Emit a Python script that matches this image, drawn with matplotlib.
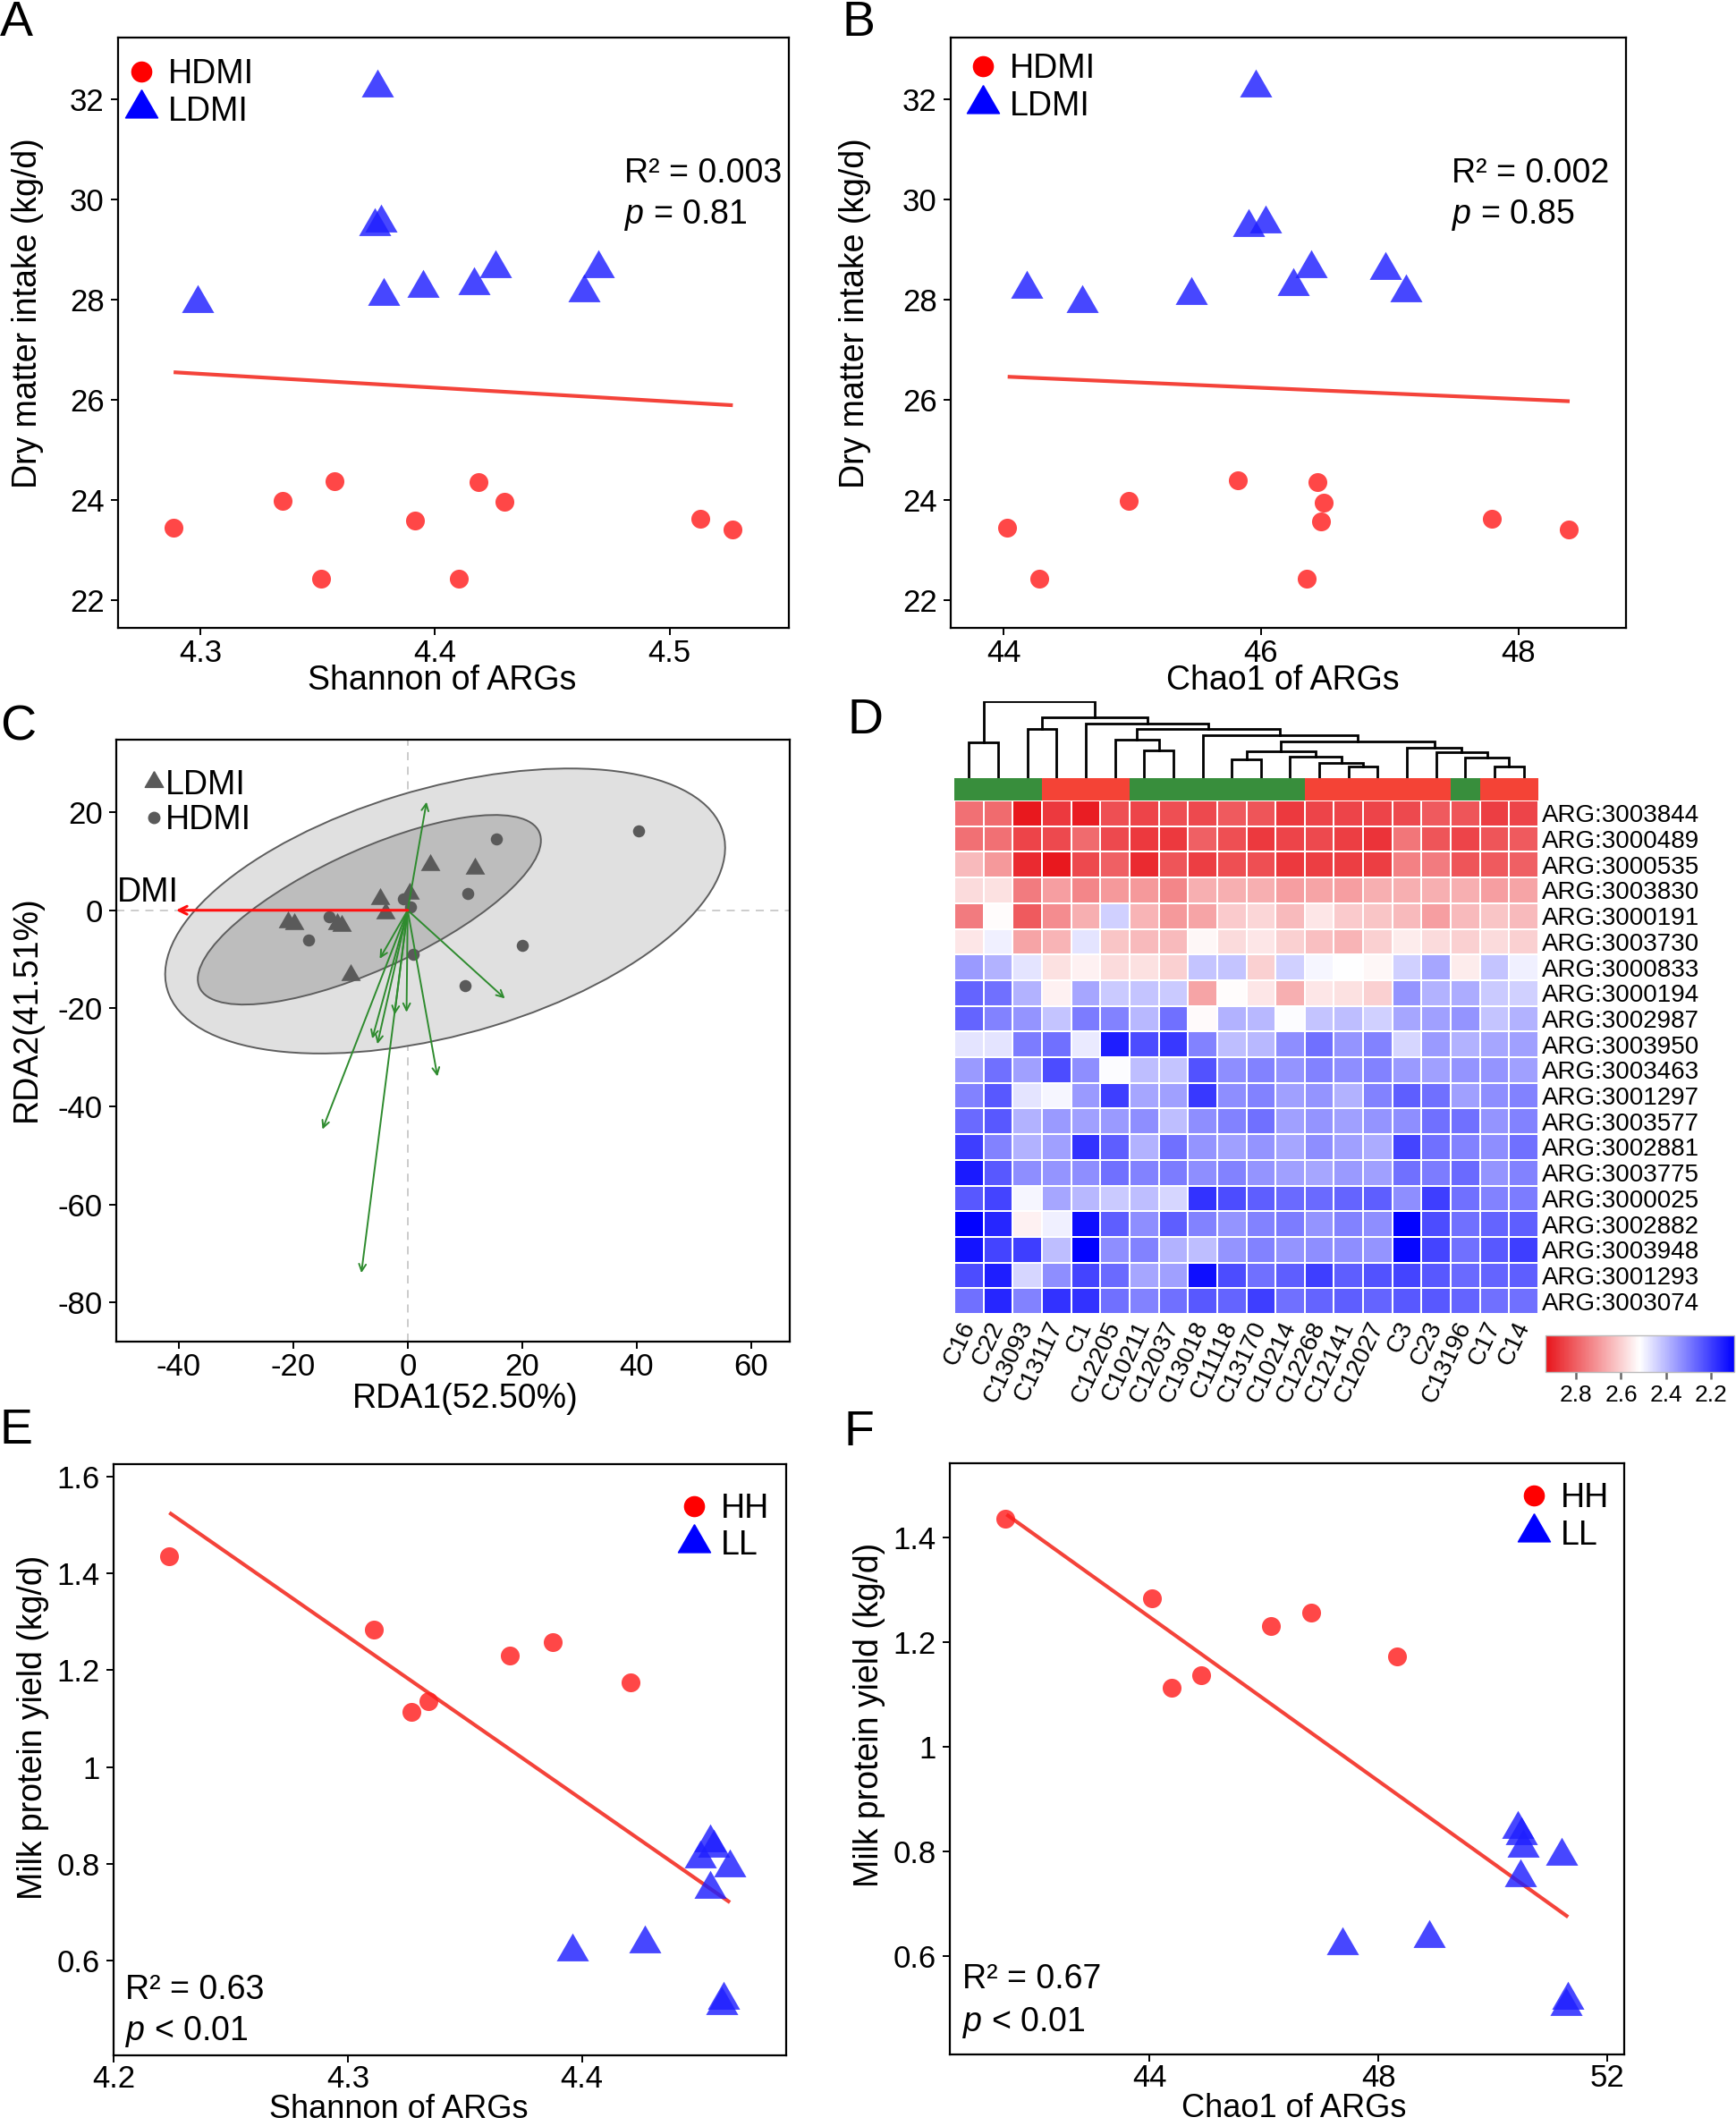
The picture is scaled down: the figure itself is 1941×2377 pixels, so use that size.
import numpy as np
import matplotlib
matplotlib.use('Agg')
import matplotlib.pyplot as plt
from matplotlib.patches import Ellipse
from matplotlib.colors import LinearSegmentedColormap, ListedColormap, Normalize
from matplotlib.lines import Line2D
import matplotlib.cm as cm

plt.rcParams['font.family'] = ['Liberation Sans', 'DejaVu Sans']
plt.rcParams['mathtext.fontset'] = 'custom'
plt.rcParams['mathtext.rm'] = 'Liberation Sans'
plt.rcParams['mathtext.it'] = 'Liberation Sans:italic'

# ---------------- data ----------------
# Panel A: DMI vs Shannon
a_hdmi_x = [4.2885, 4.335, 4.357, 4.3515, 4.3916, 4.410, 4.4187, 4.4295, 4.513, 4.527]
a_hdmi_y = [23.44, 23.98, 24.38, 22.42, 23.58, 22.43, 24.36, 23.96, 23.63, 23.41]
a_ldmi_x = [4.2989, 4.3753, 4.3744, 4.377, 4.378, 4.395, 4.4167, 4.4256, 4.4637, 4.4696]
a_ldmi_y = [27.93, 32.24, 29.46, 29.54, 28.08, 28.23, 28.28, 28.63, 28.14, 28.62]
a_fit_x = [4.2885, 4.527]
a_fit_y = [26.55, 25.89]

# Panel B: DMI vs Chao1
b_hdmi_x = [44.025, 44.274, 44.973, 45.819, 46.354, 46.442, 46.484, 46.467, 47.798, 48.396]
b_hdmi_y = [23.44, 22.42, 23.98, 24.39, 22.42, 24.36, 23.95, 23.57, 23.62, 23.41]
b_ldmi_x = [44.181, 44.606, 45.457, 45.958, 45.903, 46.038, 46.253, 46.387, 46.964, 47.124]
b_ldmi_y = [28.22, 27.93, 28.09, 32.24, 29.45, 29.52, 28.27, 28.62, 28.59, 28.15]
b_fit_x = [44.03, 48.40]
b_fit_y = [26.46, 25.97]

dmi_yticks = [22, 24, 26, 28, 30, 32]
a_xticks = [4.3, 4.4, 4.5]
b_xticks = [44, 46, 48]

# Panel C: RDA
c_ldmi_x = [-20.9, -19.8, -12.4, -11.5, -4.8, -3.9, -10.0, 0.3, 4.0, 11.7]
c_ldmi_y = [-2.4, -2.8, -2.7, -3.2, 2.4, -0.6, -13.1, 3.5, 9.3, 8.5]
c_hdmi_x = [-13.8, -17.4, -0.7, 0.5, 0.9, 10.5, 15.5, 40.3, 20.1, 10.0]
c_hdmi_y = [-1.4, -6.0, 2.3, 0.7, -9.0, 3.5, 14.5, 16.2, -7.2, -15.3]
c_arg_x = [3.3, -4.9, 17.0, -2.3, -0.2, -6.2, -5.3, 5.2, -14.9, -8.1]
c_arg_y = [22.1, -9.9, -18.0, -21.3, -20.8, -26.2, -27.3, -33.9, -44.7, -74.0]
c_dmi_vec = [-40.5, 0.0]
c_ell_center = [(6.55, -0.15), (-6.7, 0.1)]
c_ell_width = [102.4, 67.4]
c_ell_height = [49.8, 23.5]
c_ell_angle = [19.6, 29.1]
c_xticks = [-40, -20, 0, 20, 40, 60]
c_yticks = [20, 0, -20, -40, -60, -80]

# Panel D: heatmap
col_labels = ['C16', 'C22', 'C13093', 'C13117', 'C1', 'C12205', 'C10211', 'C12037', 'C13018', 'C11118',
              'C13170', 'C10214', 'C12268', 'C12141', 'C12027', 'C3', 'C23', 'C13196', 'C17', 'C14']
row_labels = ['ARG:3003844', 'ARG:3000489', 'ARG:3000535', 'ARG:3003830', 'ARG:3000191', 'ARG:3003730',
              'ARG:3000833', 'ARG:3000194', 'ARG:3002987', 'ARG:3003950', 'ARG:3003463', 'ARG:3001297',
              'ARG:3003577', 'ARG:3002881', 'ARG:3003775', 'ARG:3000025', 'ARG:3002882', 'ARG:3003948',
              'ARG:3001293', 'ARG:3003074']
col_groups = ['L', 'L', 'L', 'H', 'H', 'H', 'L', 'L', 'L', 'L', 'L', 'L', 'H', 'H', 'H', 'H', 'H', 'L', 'H', 'H']
hm_values = [
    [2.77, 2.78, 2.93, 2.87, 2.92, 2.83, 2.85, 2.83, 2.84, 2.81, 2.82, 2.87, 2.85, 2.85, 2.85, 2.84, 2.81, 2.82, 2.86, 2.85],
    [2.77, 2.77, 2.85, 2.84, 2.78, 2.84, 2.87, 2.87, 2.80, 2.83, 2.87, 2.85, 2.84, 2.86, 2.88, 2.76, 2.82, 2.85, 2.82, 2.81],
    [2.64, 2.70, 2.895, 2.93, 2.84, 2.80, 2.895, 2.82, 2.86, 2.83, 2.83, 2.87, 2.86, 2.86, 2.86, 2.74, 2.75, 2.82, 2.81, 2.80],
    [2.58, 2.57, 2.75, 2.69, 2.73, 2.70, 2.70, 2.73, 2.66, 2.66, 2.66, 2.69, 2.68, 2.69, 2.66, 2.66, 2.66, 2.66, 2.69, 2.68],
    [2.75, 2.52, 2.81, 2.72, 2.66, 2.44, 2.65, 2.70, 2.68, 2.61, 2.59, 2.64, 2.56, 2.61, 2.62, 2.64, 2.69, 2.64, 2.62, 2.64],
    [2.56, 2.49, 2.68, 2.65, 2.47, 2.62, 2.64, 2.64, 2.53, 2.58, 2.56, 2.60, 2.63, 2.65, 2.60, 2.55, 2.58, 2.60, 2.58, 2.60],
    [2.35, 2.39, 2.47, 2.57, 2.54, 2.58, 2.57, 2.60, 2.42, 2.42, 2.60, 2.44, 2.50, 2.515, 2.53, 2.44, 2.37, 2.55, 2.42, 2.49],
    [2.26, 2.28, 2.39, 2.54, 2.37, 2.43, 2.42, 2.43, 2.68, 2.52, 2.56, 2.66, 2.56, 2.57, 2.60, 2.34, 2.39, 2.38, 2.43, 2.44],
    [2.26, 2.31, 2.34, 2.42, 2.30, 2.31, 2.40, 2.28, 2.525, 2.39, 2.40, 2.51, 2.42, 2.41, 2.44, 2.37, 2.36, 2.34, 2.42, 2.39],
    [2.47, 2.47, 2.30, 2.28, 2.48, 2.145, 2.22, 2.19, 2.31, 2.41, 2.40, 2.33, 2.28, 2.34, 2.31, 2.45, 2.35, 2.39, 2.37, 2.36],
    [2.35, 2.28, 2.36, 2.22, 2.33, 2.51, 2.41, 2.42, 2.23, 2.33, 2.31, 2.34, 2.31, 2.33, 2.31, 2.35, 2.36, 2.34, 2.34, 2.36],
    [2.31, 2.24, 2.47, 2.50, 2.35, 2.20, 2.37, 2.36, 2.19, 2.33, 2.31, 2.36, 2.34, 2.39, 2.31, 2.25, 2.28, 2.36, 2.33, 2.31],
    [2.27, 2.24, 2.39, 2.35, 2.36, 2.35, 2.33, 2.41, 2.33, 2.31, 2.28, 2.36, 2.34, 2.36, 2.34, 2.33, 2.28, 2.28, 2.34, 2.31],
    [2.20, 2.31, 2.39, 2.36, 2.18, 2.25, 2.39, 2.28, 2.34, 2.36, 2.34, 2.37, 2.33, 2.36, 2.38, 2.21, 2.28, 2.31, 2.33, 2.28],
    [2.14, 2.24, 2.33, 2.34, 2.33, 2.28, 2.31, 2.30, 2.33, 2.31, 2.34, 2.36, 2.37, 2.35, 2.36, 2.28, 2.30, 2.27, 2.34, 2.31],
    [2.24, 2.21, 2.50, 2.37, 2.40, 2.43, 2.41, 2.45, 2.18, 2.22, 2.25, 2.27, 2.27, 2.26, 2.25, 2.33, 2.20, 2.28, 2.31, 2.30],
    [2.10, 2.16, 2.54, 2.49, 2.12, 2.25, 2.33, 2.25, 2.31, 2.34, 2.31, 2.30, 2.34, 2.31, 2.33, 2.10, 2.22, 2.28, 2.26, 2.25],
    [2.13, 2.21, 2.20, 2.41, 2.10, 2.33, 2.31, 2.39, 2.41, 2.34, 2.31, 2.34, 2.33, 2.33, 2.34, 2.105, 2.21, 2.28, 2.24, 2.20],
    [2.22, 2.145, 2.45, 2.33, 2.21, 2.27, 2.37, 2.36, 2.12, 2.22, 2.28, 2.25, 2.20, 2.25, 2.23, 2.21, 2.24, 2.27, 2.26, 2.25],
    [2.28, 2.16, 2.31, 2.18, 2.18, 2.28, 2.31, 2.28, 2.24, 2.26, 2.20, 2.28, 2.26, 2.25, 2.26, 2.24, 2.24, 2.26, 2.28, 2.28],
]
# dendrogram merges: (child_a, child_b, height); leaves 0..19, new nodes 20..
dendro_merges = [
    (0, 1, 120), (2, 3, 163), (6, 7, 92), (5, 22, 127), (9, 10, 62), (13, 14, 38), (12, 25, 50),
    (11, 26, 70), (24, 27, 90), (18, 19, 38), (17, 29, 67), (16, 30, 85), (15, 31, 100),
    (28, 32, 123), (8, 33, 143), (23, 34, 163), (4, 35, 182), (21, 36, 203), (20, 37, 255),
]
cbar_ticks = [2.8, 2.6, 2.4, 2.2]
cbar_vmin, cbar_vmax = 2.095, 2.937

# Panel E: protein yield vs Shannon
e_hh_x = [4.2238, 4.311, 4.3273, 4.3344, 4.3692, 4.3874, 4.4207]
e_hh_y = [1.436, 1.284, 1.114, 1.136, 1.230, 1.258, 1.175]
e_ll_x = [4.4546, 4.4561, 4.4507, 4.4632, 4.4546, 4.396, 4.4267, 4.4606, 4.4597]
e_ll_y = [0.845, 0.834, 0.811, 0.792, 0.749, 0.618, 0.636, 0.519, 0.507]
e_fit_x = [4.2238, 4.4632]
e_fit_y = [1.5257, 0.7204]
e_xticks = [4.2, 4.3, 4.4]
e_yticks = [0.6, 0.8, 1.0, 1.2, 1.4, 1.6]
e_yticklabels = ['0.6', '0.8', '1', '1.2', '1.4', '1.6']

# Panel F: protein yield vs Chao1
f_hh_x = [41.486, 44.045, 44.389, 44.904, 46.125, 46.821, 48.322]
f_hh_y = [1.4357, 1.2835, 1.1122, 1.1357, 1.2304, 1.2565, 1.173]
f_ll_x = [50.43, 50.49, 50.52, 51.19, 50.47, 47.37, 48.89, 51.30, 51.28]
f_ll_y = [0.842, 0.831, 0.807, 0.790, 0.749, 0.620, 0.633, 0.516, 0.503]
f_fit_x = [41.50, 51.31]
f_fit_y = [1.444, 0.674]
f_xticks = [44, 48, 52]
f_yticks = [0.6, 0.8, 1.0, 1.2, 1.4]
f_yticklabels = ['0.6', '0.8', '1', '1.2', '1.4']

# ---------------- figure ----------------
W, H = 1941, 2377
fig = plt.figure(figsize=(W / 100, H / 100), dpi=100)


def box(l, t, r, b):
    return [l / W, 1 - b / H, (r - l) / W, (b - t) / H]


TRI = [(0, 1), (-0.866, -0.5), (0.866, -0.5), (0, 1)]
RED_PT = '#ff1f1f'
BLUE_PT = '#1f1fff'
LINE_RED = '#f4433a'
TICK_FS = 25
LAB_FS = 27


def style(ax, xpad=3):
    for s in ax.spines.values():
        s.set_linewidth(1.6)
    ax.tick_params(direction='out', length=6, width=1.4, labelsize=TICK_FS, pad=5)
    ax.tick_params(axis='x', pad=xpad)


def corr_text(ax, x, y1, y2, r2, ptxt):
    ax.text(x, y1, 'R² = ' + r2, transform=ax.transAxes, fontsize=LAB_FS, ha='left', va='center')
    ax.text(x, y2, '$p$ ' + ptxt, transform=ax.transAxes, fontsize=LAB_FS, ha='left', va='center')


def scatter_panel(ax, hx, hy, lx, ly, fx, fy):
    ax.scatter(hx, hy, s=230, marker='o', color=RED_PT, alpha=0.82, lw=0, zorder=3)
    ax.scatter(lx, ly, s=900, marker=TRI, color=BLUE_PT, alpha=0.82, lw=0, zorder=3)
    ax.plot(fx, fy, color=LINE_RED, lw=3, zorder=2, solid_capstyle='butt')


def legend_handles(labels):
    return [Line2D([], [], marker='o', ls='', color='red', markersize=16, label=labels[0]),
            Line2D([], [], marker=TRI, ls='', color='blue', markersize=30, label=labels[1])]


def set_labels(ax, xl, yl, xfrac, yfrac, xpad, ypad, xfs=LAB_FS):
    ax.set_xlabel(xl, fontsize=xfs, labelpad=xpad)
    ax.set_ylabel(yl, fontsize=LAB_FS, labelpad=ypad)
    ax.xaxis.label.set_x(xfrac)
    ax.yaxis.label.set_y(yfrac)


LEG_KW = dict(frameon=False, fontsize=LAB_FS, handletextpad=0.3, labelspacing=0.15, handlelength=1.0)

# ---- A ----
axA = fig.add_axes(box(132, 42, 882, 702))
scatter_panel(axA, a_hdmi_x, a_hdmi_y, a_ldmi_x, a_ldmi_y, a_fit_x, a_fit_y)
axA.set_xlim(4.2648, 4.5509)
axA.set_ylim(21.44, 33.24)
axA.set_xticks(a_xticks)
axA.set_xticklabels([str(v) for v in a_xticks])
axA.set_yticks(dmi_yticks)
style(axA)
set_labels(axA, 'Shannon of ARGs', 'Dry matter intake (kg/d)', 0.483, 0.533, -3, 21)
axA.legend(handles=legend_handles(['HDMI', 'LDMI']), loc='upper left',
           bbox_to_anchor=(-0.026, 1.005), borderaxespad=0.3, **LEG_KW)
corr_text(axA, 0.755, 0.77, 0.70, '0.003', '= 0.81')

# ---- B ----
axB = fig.add_axes(box(1063, 42, 1818, 702))
scatter_panel(axB, b_hdmi_x, b_hdmi_y, b_ldmi_x, b_ldmi_y, b_fit_x, b_fit_y)
axB.set_xlim(43.587, 48.838)
axB.set_ylim(21.44, 33.24)
axB.set_xticks(b_xticks)
axB.set_yticks(dmi_yticks)
style(axB)
set_labels(axB, 'Chao1 of ARGs', 'Dry matter intake (kg/d)', 0.492, 0.533, -3, 25)
axB.legend(handles=legend_handles(['HDMI', 'LDMI']), loc='upper left',
           bbox_to_anchor=(-0.012, 1.014), borderaxespad=0.3, **LEG_KW)
corr_text(axB, 0.742, 0.77, 0.70, '0.002', '= 0.85')

# ---- C ----
axC = fig.add_axes(box(130, 827, 883, 1500))
axC.set_xlim(-50.95, 66.8)
axC.set_ylim(-88.0, 34.8)
axC.axhline(0, color='#c8c8c8', lw=1.3, ls=(0, (5, 4)), zorder=0)
axC.axvline(0, color='#c8c8c8', lw=1.3, ls=(0, (5, 4)), zorder=0)
ell_fc = ['#e0e0e0', '#bdbdbd']
for (cx, cy), w, h, ang, fc in zip(c_ell_center, c_ell_width, c_ell_height, c_ell_angle, ell_fc):
    axC.add_patch(Ellipse((cx, cy), w, h, angle=ang, facecolor=fc, edgecolor='#5e5e5e', lw=1.4, zorder=1))
axC.scatter(c_ldmi_x, c_ldmi_y, s=330, marker=TRI, color='#5a5a5a', lw=0, zorder=3)
axC.scatter(c_hdmi_x, c_hdmi_y, s=95, marker='o', color='#5a5a5a', lw=0, zorder=3)
for ex, ey in zip(c_arg_x, c_arg_y):
    axC.annotate('', xy=(ex, ey), xytext=(0, 0),
                 arrowprops=dict(arrowstyle='->', color='#2e8b2e', lw=1.4, mutation_scale=14,
                                 shrinkA=0, shrinkB=0), zorder=4)
axC.annotate('', xy=(c_dmi_vec[0], c_dmi_vec[1]), xytext=(0, 0),
             arrowprops=dict(arrowstyle='->', color='#ff1010', lw=2.2, mutation_scale=16,
                             shrinkA=0, shrinkB=0), zorder=5)
axC.text(c_dmi_vec[0] - 5, c_dmi_vec[1] + 0.4, 'DMI', fontsize=LAB_FS, ha='center', va='bottom')
axC.set_xticks(c_xticks)
axC.set_xticklabels([str(v) for v in c_xticks])
axC.set_yticks(c_yticks)
axC.set_yticklabels([str(v) for v in c_yticks])
style(axC)
set_labels(axC, 'RDA1(52.50%)', 'RDA2(41.51%)', 0.518, 0.553, 0, 12)
c_handles = [Line2D([], [], marker=TRI, ls='', color='#5a5a5a', markersize=17, label='LDMI'),
             Line2D([], [], marker='o', ls='', color='#5a5a5a', markersize=9, label='HDMI')]
axC.legend(handles=c_handles, loc='upper left', bbox_to_anchor=(0.008, 0.985), frameon=False,
           fontsize=LAB_FS, handletextpad=0.0, labelspacing=0.1, borderaxespad=0.2, handlelength=0.7)

# ---- D ----
vals = np.array(hm_values)
cmap = LinearSegmentedColormap.from_list('bwr_custom', ['#0000ff', '#ffffff', '#e8141a'])
norm = Normalize(vmin=cbar_vmin, vmax=cbar_vmax)
axH = fig.add_axes(box(1067, 895, 1720, 1469))
axH.pcolormesh(vals, cmap=cmap, norm=norm, edgecolors='white', linewidth=1.3)
axH.set_xlim(0, vals.shape[1])
axH.set_ylim(vals.shape[0], 0)
for s in axH.spines.values():
    s.set_visible(False)
axH.set_xticks(np.arange(len(col_labels)) + 0.5)
axH.set_xticklabels(col_labels, rotation=65, ha='right', va='center', rotation_mode='anchor', fontsize=20)
axH.yaxis.tick_right()
axH.set_yticks(np.arange(len(row_labels)) + 0.5)
axH.set_yticklabels(row_labels, fontsize=20)
axH.tick_params(length=0, pad=3)
axH.tick_params(axis='x', pad=7)

axG = fig.add_axes(box(1067, 870, 1720, 895))
gcodes = np.array([[0 if g == 'L' else 1 for g in col_groups]])
axG.pcolormesh(gcodes, cmap=ListedColormap(['#388e3c', '#f44336']), vmin=0, vmax=1)
axG.set_xlim(0, len(col_groups))
axG.axis('off')

axDd = fig.add_axes(box(1067, 784, 1720, 870))
pos = {i: (i + 0.5, 0.0) for i in range(len(col_labels))}
nid = len(col_labels)
for a, b, h in dendro_merges:
    xa, ha = pos[a]
    xb, hb = pos[b]
    axDd.plot([xa, xa, xb, xb], [ha, h, h, hb], color='black', lw=2.0, solid_joinstyle='miter')
    pos[nid] = ((xa + xb) / 2, h)
    nid += 1
axDd.set_xlim(0, len(col_labels))
axDd.set_ylim(0, 256)
axDd.axis('off')

cax = fig.add_axes(box(1728, 1493, 1939, 1534))
sm = cm.ScalarMappable(norm=norm, cmap=cmap)
cb = fig.colorbar(sm, cax=cax, orientation='horizontal')
cax.set_xlim(cbar_vmax, cbar_vmin)
cb.set_ticks(cbar_ticks)
cb.set_ticklabels([str(v) for v in cbar_ticks])
cb.outline.set_edgecolor('#bbbbbb')
cb.outline.set_linewidth(1.0)
cax.tick_params(labelsize=19, length=6, width=1.8, color='#666666', pad=4)

# ---- E ----
axE = fig.add_axes(box(127, 1637, 879, 2298))
scatter_panel(axE, e_hh_x, e_hh_y, e_ll_x, e_ll_y, e_fit_x, e_fit_y)
axE.set_xlim(4.2, 4.4872)
axE.set_ylim(0.4043, 1.626)
axE.set_xticks(e_xticks)
axE.set_xticklabels([str(v) for v in e_xticks])
axE.set_yticks(e_yticks)
axE.set_yticklabels(e_yticklabels)
style(axE, xpad=1)
set_labels(axE, 'Shannon of ARGs', 'Milk protein yield (kg/d)', 0.424, 0.554, 0, 6, xfs=26)
axE.legend(handles=legend_handles(['HH', 'LL']), loc='upper right',
           bbox_to_anchor=(1.017, 1.0), borderaxespad=0.45, **LEG_KW)
corr_text(axE, 0.017, 0.11, 0.04, '0.63', '< 0.01')

# ---- F ----
axF = fig.add_axes(box(1062, 1636, 1816, 2297))
scatter_panel(axF, f_hh_x, f_hh_y, f_ll_x, f_ll_y, f_fit_x, f_fit_y)
axF.set_xlim(40.51, 52.29)
axF.set_ylim(0.411, 1.542)
axF.set_xticks(f_xticks)
axF.set_yticks(f_yticks)
axF.set_yticklabels(f_yticklabels)
style(axF, xpad=1)
set_labels(axF, 'Chao1 of ARGs', 'Milk protein yield (kg/d)', 0.51, 0.575, 0, 6, xfs=26)
axF.legend(handles=legend_handles(['HH', 'LL']), loc='upper right',
           bbox_to_anchor=(1.013, 1.008), borderaxespad=0.3, **LEG_KW)
corr_text(axF, 0.018, 0.127, 0.054, '0.67', '< 0.01')

# ---- panel letters ----
for letter, (px, py) in zip('ABCDEF', [(0, 0), (942, 0), (0, 788), (948, 780), (0, 1574), (943, 1576)]):
    fig.text(px / W, 1 - py / H, letter, fontsize=40, ha='left', va='top')

fig.savefig('out.png', dpi=100)
